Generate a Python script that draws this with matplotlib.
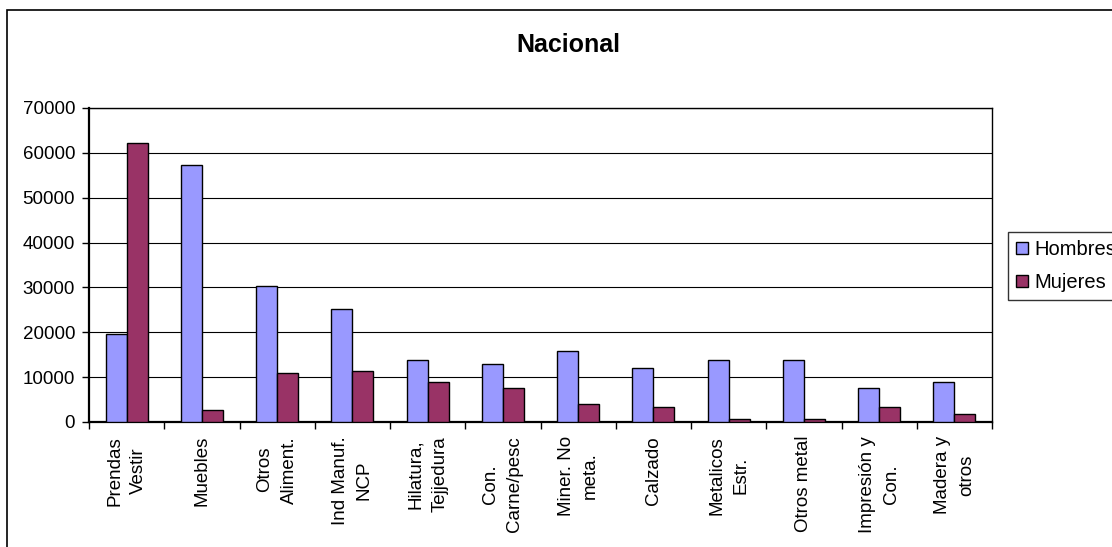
import matplotlib.pyplot as plt
import numpy as np
from matplotlib.patches import Rectangle

plt.rcParams['font.family'] = ['Liberation Sans', 'DejaVu Sans']

categories = ["Prendas\nVestir", "Muebles", "Otros\nAliment.", "Ind Manuf.\nNCP",
              "Hilatura,\nTejjedura", "Con.\nCarne/pesc", "Miner. No\nmeta.", "Calzado",
              "Metalicos\nEstr.", "Otros metal", "Impresión y\nCon.", "Madera y\notros"]
hombres = [19700, 57200, 30300, 25100, 13800, 13000, 15900, 12100, 13800, 13800, 7600, 9000]
mujeres = [62100, 2600, 11000, 11300, 8900, 7600, 4100, 3400, 700, 700, 3400, 1700]
yticks = [0, 10000, 20000, 30000, 40000, 50000, 60000, 70000]

fig = plt.figure(figsize=(11.12, 5.47), dpi=100)
ax = fig.add_axes([89 / 1112, 1 - 422 / 547, 903 / 1112, 314 / 547])

x = np.arange(len(categories))
w = 0.28
ax.bar(x - w / 2, hombres, w, color="#9999FF", edgecolor="black", linewidth=1, label="Hombres", zorder=3)
ax.bar(x + w / 2, mujeres, w, color="#993366", edgecolor="black", linewidth=1, label="Mujeres", zorder=3)

ax.set_xlim(-0.5, len(categories) - 0.5)
ax.set_ylim(0, 70000)
ax.set_yticks(yticks)
ax.set_yticklabels([str(v) for v in yticks], fontsize=13.5)
ax.yaxis.grid(True, color="black", linewidth=0.8, zorder=0)

# category labels at the centres, tick marks on the boundaries
ax.set_xticks(x)
ax.set_xticklabels(categories, rotation=90, fontsize=13.5, linespacing=1.55)
ax.tick_params(axis="x", length=0, pad=10)
ax.set_xticks(np.arange(len(categories) + 1) - 0.5, minor=True)
ax.tick_params(axis="x", which="minor", length=5, width=1, direction="out")
ax.tick_params(axis="y", length=5, width=1, pad=5)

for s in ["left", "bottom"]:
    ax.spines[s].set_linewidth(1.6)
for s in ["top", "right"]:
    ax.spines[s].set_linewidth(1.0)

fig.text(568 / 1112, 1 - 45 / 547, "Nacional", ha="center", va="center", fontsize=18, fontweight="bold")

leg = fig.legend(loc="upper left", bbox_to_anchor=(1008 / 1112, 1 - 232 / 547), fontsize=14.5,
                 frameon=True, fancybox=False, edgecolor="black", handlelength=0.6, handleheight=0.6,
                 handletextpad=0.3, borderpad=0.4, labelspacing=0.7, borderaxespad=0)
leg.get_frame().set_linewidth(1)

# outer chart border (open to the right and bottom)
fig.patches.append(Rectangle((7 / 1112, -0.1), 1.2, 1 - 10 / 547 + 0.1, transform=fig.transFigure,
                             fill=False, edgecolor="black", linewidth=1.2))

fig.savefig("out.png", dpi=100)
